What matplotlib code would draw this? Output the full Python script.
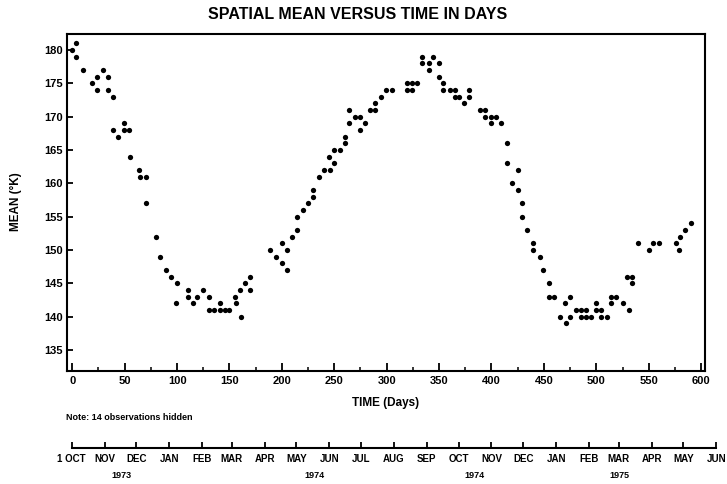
import matplotlib
matplotlib.use('Agg')
import matplotlib.pyplot as plt
import matplotlib.transforms as mtransforms
from matplotlib.ticker import MultipleLocator

plt.rcParams['font.family'] = ['Liberation Sans', 'DejaVu Sans']
plt.rcParams['font.weight'] = 'bold'
plt.rcParams['axes.labelweight'] = 'bold'

# spatial mean (deg K) against day number, day 0 = 1 Oct 1973
days = [0, 4, 4, 10, 19, 24, 24, 29, 34, 34, 39, 39, 44, 49, 49, 54, 55, 64, 65, 70,
        70, 80, 84, 89, 94, 100, 99, 110, 110, 115, 119, 125, 130, 130, 135, 141, 141, 146, 150, 155,
        156, 160, 161, 165, 170, 170, 189, 194, 200, 200, 205, 205, 210, 214, 214, 220, 225, 230, 230, 235,
        240, 245, 246, 250, 250, 255, 260, 260, 264, 264, 270, 275, 275, 279, 284, 289, 289, 295, 299, 305,
        319, 319, 324, 324, 329, 334, 334, 340, 340, 344, 350, 350, 354, 354, 360, 365, 365, 369, 374, 379,
        379, 389, 394, 394, 400, 400, 404, 409, 415, 415, 420, 425, 425, 429, 429, 434, 440, 440, 446, 449,
        455, 455, 460, 465, 470, 471, 475, 475, 481, 485, 485, 490, 490, 495, 500, 500, 504, 504, 510, 514,
        514, 519, 525, 529, 531, 534, 534, 540, 550, 554, 560, 576, 579, 580, 585, 590]
means = [180, 181, 179, 177, 175, 176, 174, 177, 176, 174, 173, 168, 167, 169, 168, 168, 164, 162, 161, 161,
         157, 152, 149, 147, 146, 145, 142, 144, 143, 142, 143, 144, 143, 141, 141, 142, 141, 141, 141, 143,
         142, 144, 140, 145, 146, 144, 150, 149, 151, 148, 150, 147, 152, 153, 155, 156, 157, 159, 158, 161,
         162, 164, 162, 163, 165, 165, 166, 167, 169, 171, 170, 170, 168, 169, 171, 171, 172, 173, 174, 174,
         174, 175, 174, 175, 175, 179, 178, 178, 177, 179, 178, 176, 175, 174, 174, 174, 173, 173, 172, 174,
         173, 171, 171, 170, 170, 169, 170, 169, 166, 163, 160, 162, 159, 157, 155, 153, 151, 150, 149, 147,
         145, 143, 143, 140, 142, 139, 140, 143, 141, 141, 140, 141, 140, 140, 142, 141, 141, 140, 140, 143,
         142, 143, 142, 146, 141, 146, 145, 151, 150, 151, 151, 151, 150, 152, 153, 154]

# calendar axis underneath
month_days = [0, 31, 61, 92, 123, 151, 182, 212, 243, 273, 304, 335, 365, 396, 426, 457, 488, 516, 547, 577, 608]
month_labels = ['1 OCT', 'NOV', 'DEC', 'JAN', 'FEB', 'MAR', 'APR', 'MAY', 'JUN', 'JUL', 'AUG', 'SEP',
                'OCT', 'NOV', 'DEC', 'JAN', 'FEB', 'MAR', 'APR', 'MAY', 'JUN']
year_days = [47, 229, 380, 517]
year_labels = ['1973', '1974', '1974', '1975']

W, H = 727, 484
fig = plt.figure(figsize=(W / 100, H / 100), dpi=100)

def box(x0, y0, x1, y1):
    return [x0 / W, 1 - y1 / H, (x1 - x0) / W, (y1 - y0) / H]

ax = fig.add_axes(box(66.7, 33.5, 705, 370.5))
ax.plot(days, means, 'o', color='black', ms=3.8, mew=0)
ax.set_xlim(-5.3, 603.7)
ax.set_ylim(131.9, 182.5)
ax.xaxis.set_major_locator(MultipleLocator(50))
ax.xaxis.set_minor_locator(MultipleLocator(25))
ax.yaxis.set_major_locator(MultipleLocator(5))
ax.tick_params(axis='x', which='major', direction='in', length=6, width=1.3, pad=4, labelsize=8)
ax.tick_params(axis='x', which='minor', direction='in', length=3, width=1.1)
ax.tick_params(axis='y', direction='in', length=4, width=1.3, pad=3, labelsize=8)
for lab in ax.get_xticklabels() + ax.get_yticklabels():
    lab.set_fontweight('bold')
for s in ax.spines.values():
    s.set_linewidth(1.5)
ax.set_xlabel('TIME (Days)', fontsize=8.5, labelpad=8)
ax.set_ylabel('MEAN (°K)', fontsize=8.5, labelpad=16)

fig.text(358 / W, 1 - 14.5 / H, 'SPATIAL MEAN VERSUS TIME IN DAYS', fontsize=11.5, fontweight='heavy',
         ha='center', va='center')
fig.text(66 / W, 1 - 417 / H, 'Note: 14 observations hidden', fontsize=6.5, va='center')

# month scale
axm = fig.add_axes(box(71.7, 447, 71.7 + 608 * 1.06, 448))
axm.set_xlim(0, 608)
axm.set_ylim(0, 1)
for side in ['top', 'left', 'right']:
    axm.spines[side].set_visible(False)
axm.spines['bottom'].set_linewidth(1.5)
axm.set_yticks([])
axm.set_xticks(month_days)
axm.set_xticklabels(month_labels, fontweight='bold')
axm.tick_params(axis='x', direction='in', length=4, width=1.3, pad=4, labelsize=7)

tr = mtransforms.blended_transform_factory(axm.transData, fig.transFigure)
for d, lab in zip(year_days, year_labels):
    axm.text(d, 1 - 476 / H, lab, transform=tr, ha='center', va='center', fontsize=6.5)

fig.savefig('out.png', dpi=100)
